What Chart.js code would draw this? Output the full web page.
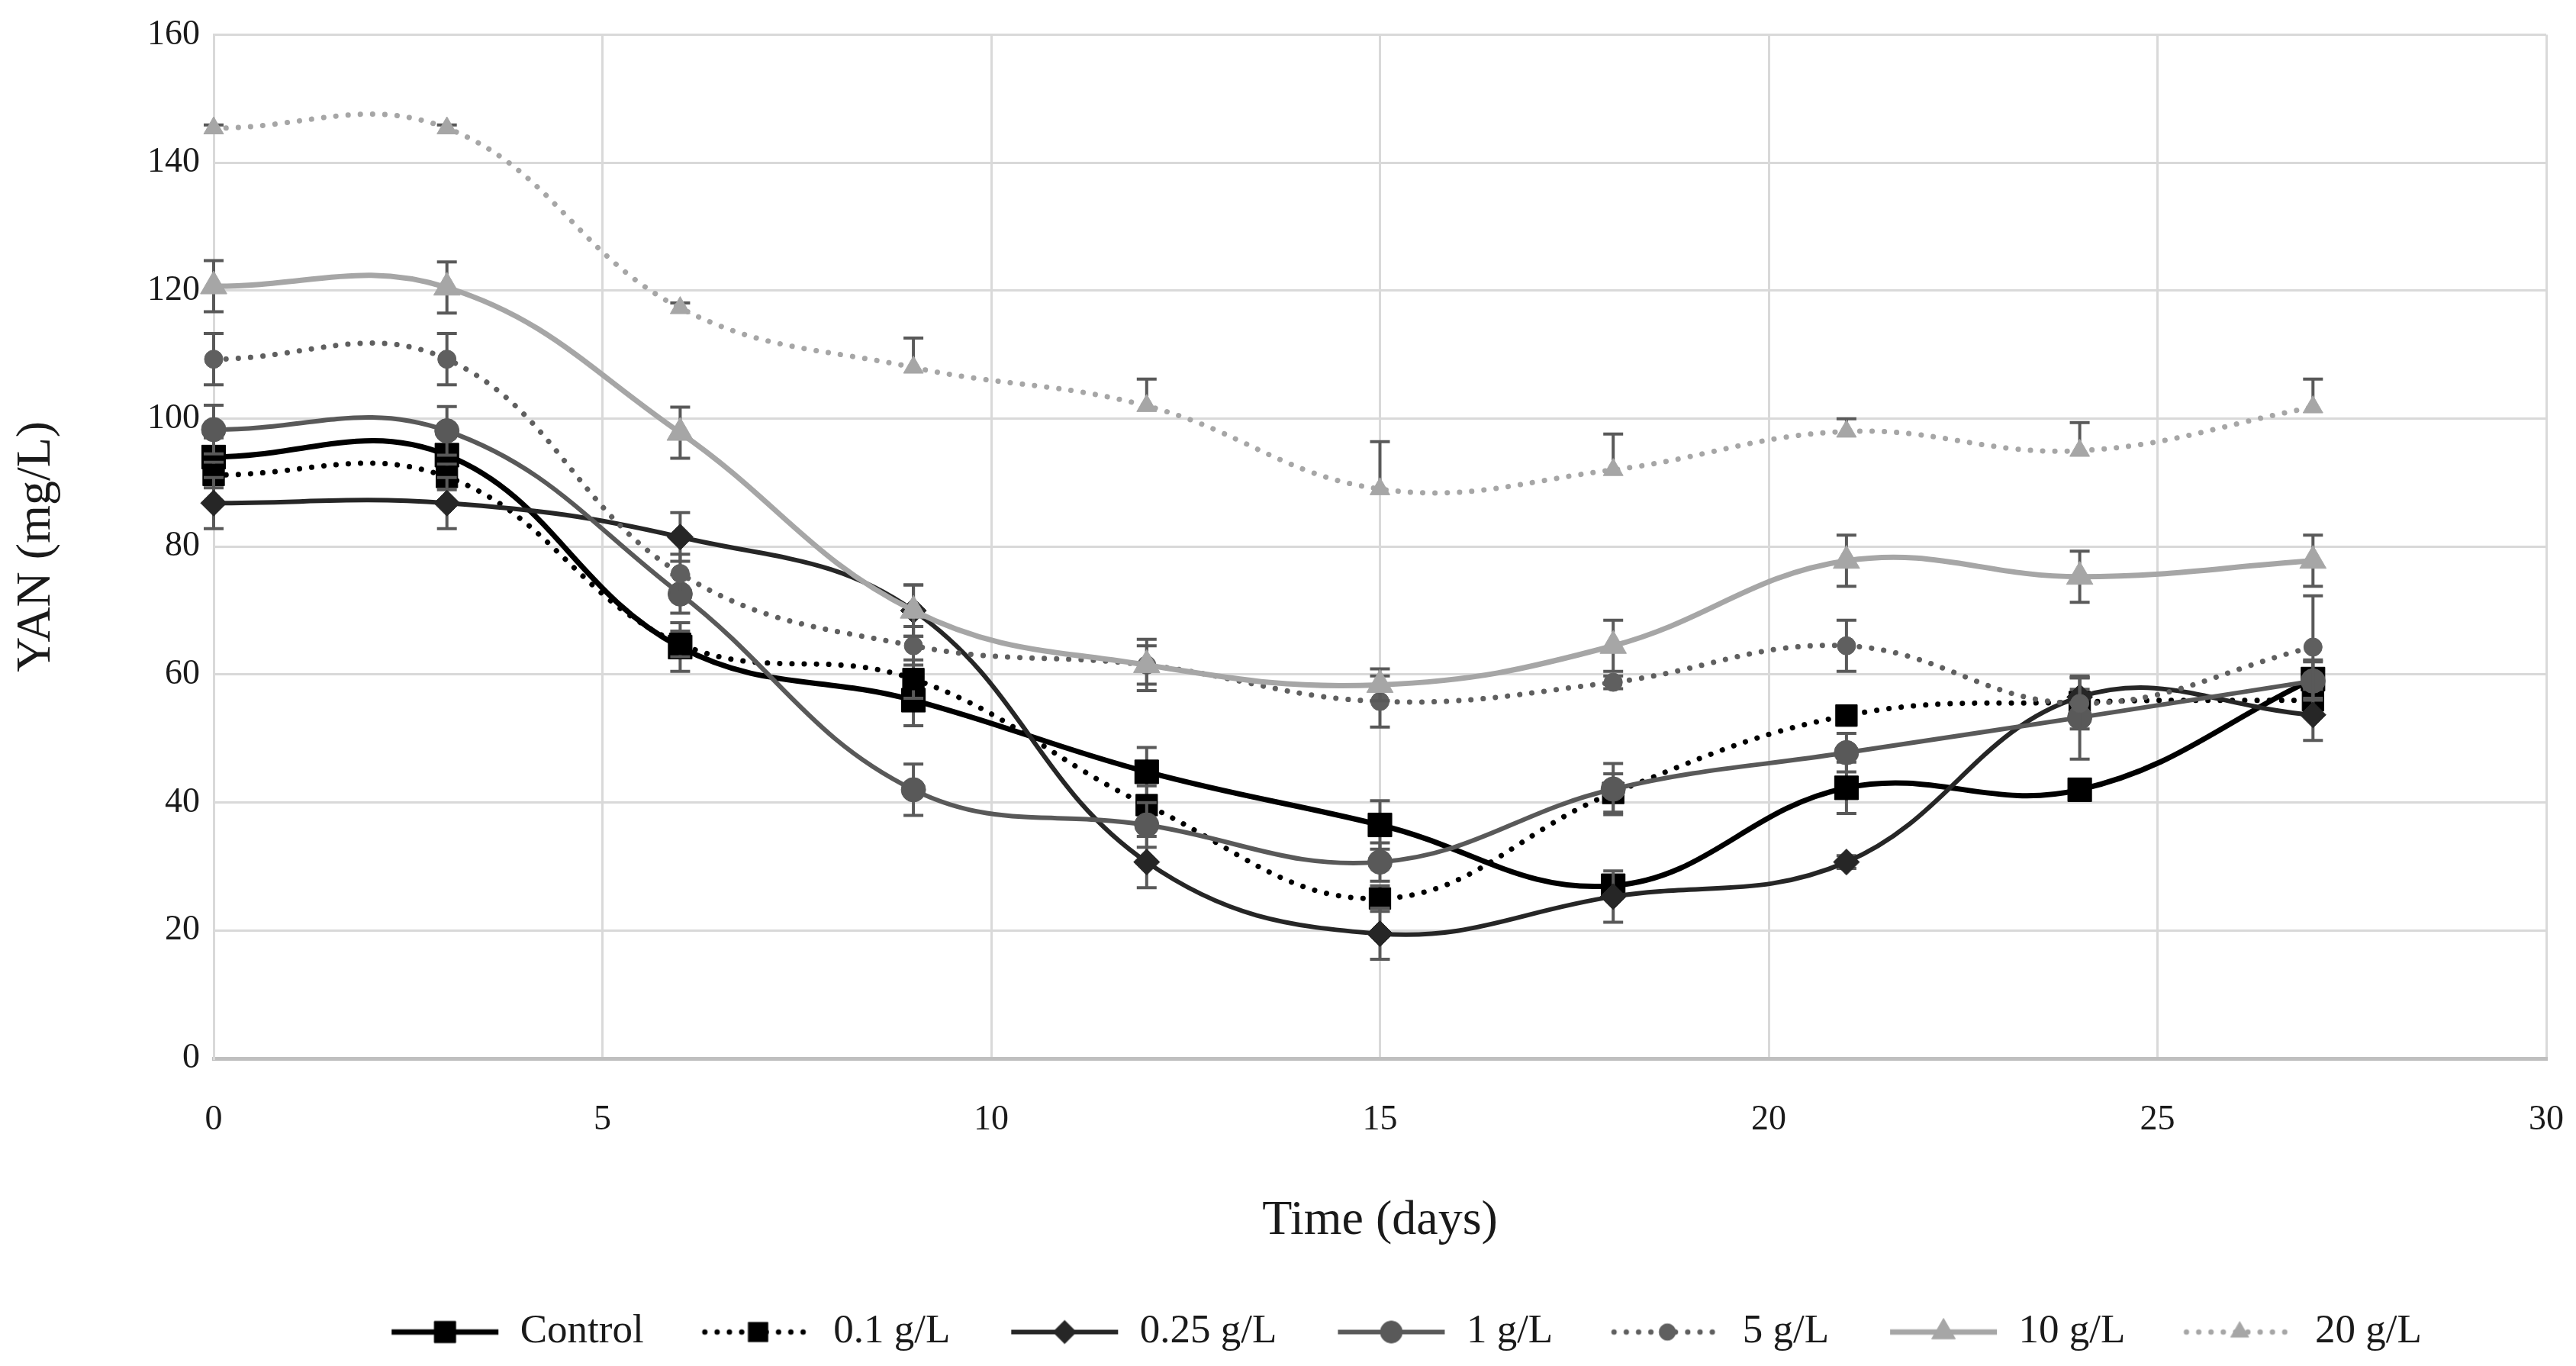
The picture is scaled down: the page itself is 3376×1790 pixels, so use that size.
<!DOCTYPE html>
<html>
<head>
<meta charset="utf-8">
<script src="https://cdn.jsdelivr.net/npm/chart.js@4.4.1/dist/chart.umd.min.js"></script>
<style>
  html, body { margin: 0; padding: 0; background: #fff; }
  #wrap { width: 3376px; height: 1790px; }
</style>
</head>
<body>
<div id="wrap"><canvas id="yan-chart" width="3376" height="1790"></canvas></div>
<script>
// sampling days
const days = [0, 3, 6, 9, 12, 15, 18, 21, 24, 27];

// YAN (mg/L) per treatment
const controlYan = [94, 94.3, 64.3, 56, 44.8, 36.5, 27, 42.3, 42, 59.3];
const yan01 = [91.2, 90.9, 64.8, 59.3, 39.6, 25, 41.5, 53.6, 55.7, 56];
const yan025 = [86.8, 86.8, 81.5, 70, 30.7, 19.5, 25.3, 30.7, 56.5, 53.7];
const yan1 = [98.3, 98.1, 72.6, 42, 36.5, 30.7, 42.1, 47.8, 53.3, 59];
const yan5 = [109.3, 109.3, 75.8, 64.5, 61.5, 55.8, 58.8, 64.5, 55.5, 64.3];
const yan10 = [120.7, 120.5, 97.8, 70, 61.5, 58.4, 64.5, 77.8, 75.3, 77.8];
const yan20 = [145.4, 145.4, 117.3, 108, 102, 89, 92, 98, 95, 101.8];

// error bar half-widths
const controlErr = [3, 3, 3.8, 4, 3.8, 3.8, 1.5, 4, 1, 3];
const err01 = [2, 2, 2, 3, 3, 2, 3, 1.5, 2, 2];
const err025 = [4, 4, 3.8, 4, 4, 4, 4, 1, 3, 4];
const err1 = [3.8, 3.8, 3, 4, 3.5, 3, 4, 3, 6.5, 3];
const err5 = [4, 4, 3, 3, 3, 4, 1, 4, 4, 8];
const err10 = [4, 4, 4, 4, 4, 2.5, 4, 4, 4, 4];
const err20 = [0.5, 0.5, 0.8, 4.6, 4.2, 7.4, 5.6, 2, 4.4, 4.4];

const seriesNames = ['Control', '0.1 g/L', '0.25 g/L', '1 g/L', '5 g/L', '10 g/L', '20 g/L'];
const seriesValues = [controlYan, yan01, yan025, yan1, yan5, yan10, yan20];
const seriesErrors = [controlErr, err01, err025, err1, err5, err10, err20];

const FONT = "'Liberation Serif', 'DejaVu Serif', serif";
const DOTS = [0.1, 16];

const styles = [
  { color: '#000000', width: 7, dash: [], point: 'rect', r: 22 },
  { color: '#000000', width: 7, dash: DOTS, point: 'rect', r: 20 },
  { color: '#262626', width: 6, dash: [], point: 'rectRot', r: 17 },
  { color: '#595959', width: 6, dash: [], point: 'circle', r: 16 },
  { color: '#5f5f5f', width: 7, dash: DOTS, point: 'circle', r: 12 },
  { color: '#a6a6a6', width: 7, dash: [], point: 'triangle', r: 20 },
  { color: '#a6a6a6', width: 7, dash: DOTS, point: 'triangle', r: 15 }
];

const datasets = seriesNames.map((name, i) => ({
  label: name,
  data: days.map((d, j) => ({ x: d, y: seriesValues[i][j] })),
  errors: seriesErrors[i],
  plusOnly: i === 6,
  borderColor: styles[i].color,
  backgroundColor: styles[i].color,
  borderWidth: styles[i].width,
  borderDash: styles[i].dash,
  borderCapStyle: styles[i].dash.length ? 'round' : 'butt',
  pointStyle: styles[i].point,
  pointRadius: styles[i].r,
  pointBorderWidth: 1,
  pointBackgroundColor: styles[i].color,
  pointBorderColor: styles[i].color,
  tension: 0.4,
  clip: false,
  order: seriesNames.length - i
}));

// line + marker icon for the legend, like the spreadsheet legend
function legendIcon(ds) {
  const c = document.createElement('canvas');
  c.width = 212; c.height = 50;
  const g = c.getContext('2d');
  g.strokeStyle = ds.borderColor;
  g.lineWidth = ds.borderWidth;
  g.lineCap = ds.borderCapStyle;
  g.setLineDash(ds.borderDash);
  g.beginPath();
  g.moveTo(70, 25);
  g.lineTo(210, 25);
  g.stroke();
  g.setLineDash([]);
  g.fillStyle = ds.pointBackgroundColor;
  g.strokeStyle = ds.pointBorderColor;
  g.lineWidth = 1;
  Chart.helpers.drawPoint(g, { pointStyle: ds.pointStyle, radius: ds.pointRadius * 0.9, borderWidth: 1, rotation: 0 }, 140, 25);
  return c;
}
const legendIcons = datasets.map(legendIcon);

const errorBars = {
  id: 'errorBars',
  beforeDatasetDraw(chart, args) {
    const ds = chart.data.datasets[args.index];
    if (!ds.errors) return;
    const y = chart.scales.y;
    const ctx = chart.ctx;
    ctx.save();
    ctx.strokeStyle = '#595959';
    ctx.lineWidth = 4;
    ctx.setLineDash([]);
    args.meta.data.forEach((pt, j) => {
      const e = ds.errors[j];
      if (!e) return;
      const v = ds.data[j].y;
      const top = y.getPixelForValue(v + e);
      const bot = y.getPixelForValue(ds.plusOnly ? v : v - e);
      ctx.beginPath();
      ctx.moveTo(pt.x, top); ctx.lineTo(pt.x, bot);
      ctx.moveTo(pt.x - 13, top); ctx.lineTo(pt.x + 13, top);
      if (!ds.plusOnly) { ctx.moveTo(pt.x - 13, bot); ctx.lineTo(pt.x + 13, bot); }
      ctx.stroke();
    });
    ctx.restore();
  }
};

new Chart(document.getElementById('yan-chart').getContext('2d'), {
  type: 'line',
  data: { datasets },
  options: {
    responsive: false,
    devicePixelRatio: 1,
    animation: false,
    layout: { padding: { left: 10, right: 39, top: 6, bottom: 8 } },
    scales: {
      x: {
        type: 'linear',
        min: 0,
        max: 30,
        ticks: { stepSize: 5, padding: 53, color: '#1a1a1a', font: { family: FONT, size: 46 } },
        grid: { color: '#d9d9d9', lineWidth: 3, drawTicks: false },
        border: { color: '#bfbfbf', width: 5 },
        title: { display: true, text: 'Time (days)', color: '#1a1a1a', font: { family: FONT, size: 64 }, padding: { top: 14, bottom: 70 } },
        afterFit(scale) { scale.paddingRight = 0; scale.paddingLeft = 0; }
      },
      y: {
        min: 0,
        max: 160,
        ticks: { stepSize: 20, padding: 18, color: '#1a1a1a', font: { family: FONT, size: 46 } },
        grid: { color: '#d9d9d9', lineWidth: 3, drawTicks: false },
        border: { color: '#d9d9d9', width: 3 },
        title: { display: true, text: 'YAN (mg/L)', color: '#1a1a1a', font: { family: FONT, size: 64 }, padding: 0 },
        afterFit(scale) { scale.width = 270; }
      }
    },
    plugins: {
      legend: {
        position: 'bottom',
        fullSize: false,
        labels: {
          usePointStyle: true,
          pointStyleWidth: 212,
          padding: 10,
          color: '#1a1a1a',
          font: { family: FONT, size: 53 },
          generateLabels(chart) {
            const items = Chart.defaults.plugins.legend.labels.generateLabels(chart);
            items.sort((a, b) => a.datasetIndex - b.datasetIndex);
            items.forEach(it => { it.pointStyle = legendIcons[it.datasetIndex]; });
            return items;
          }
        }
      },
      tooltip: { enabled: false }
    }
  },
  plugins: [errorBars]
});
</script>
</body>
</html>
